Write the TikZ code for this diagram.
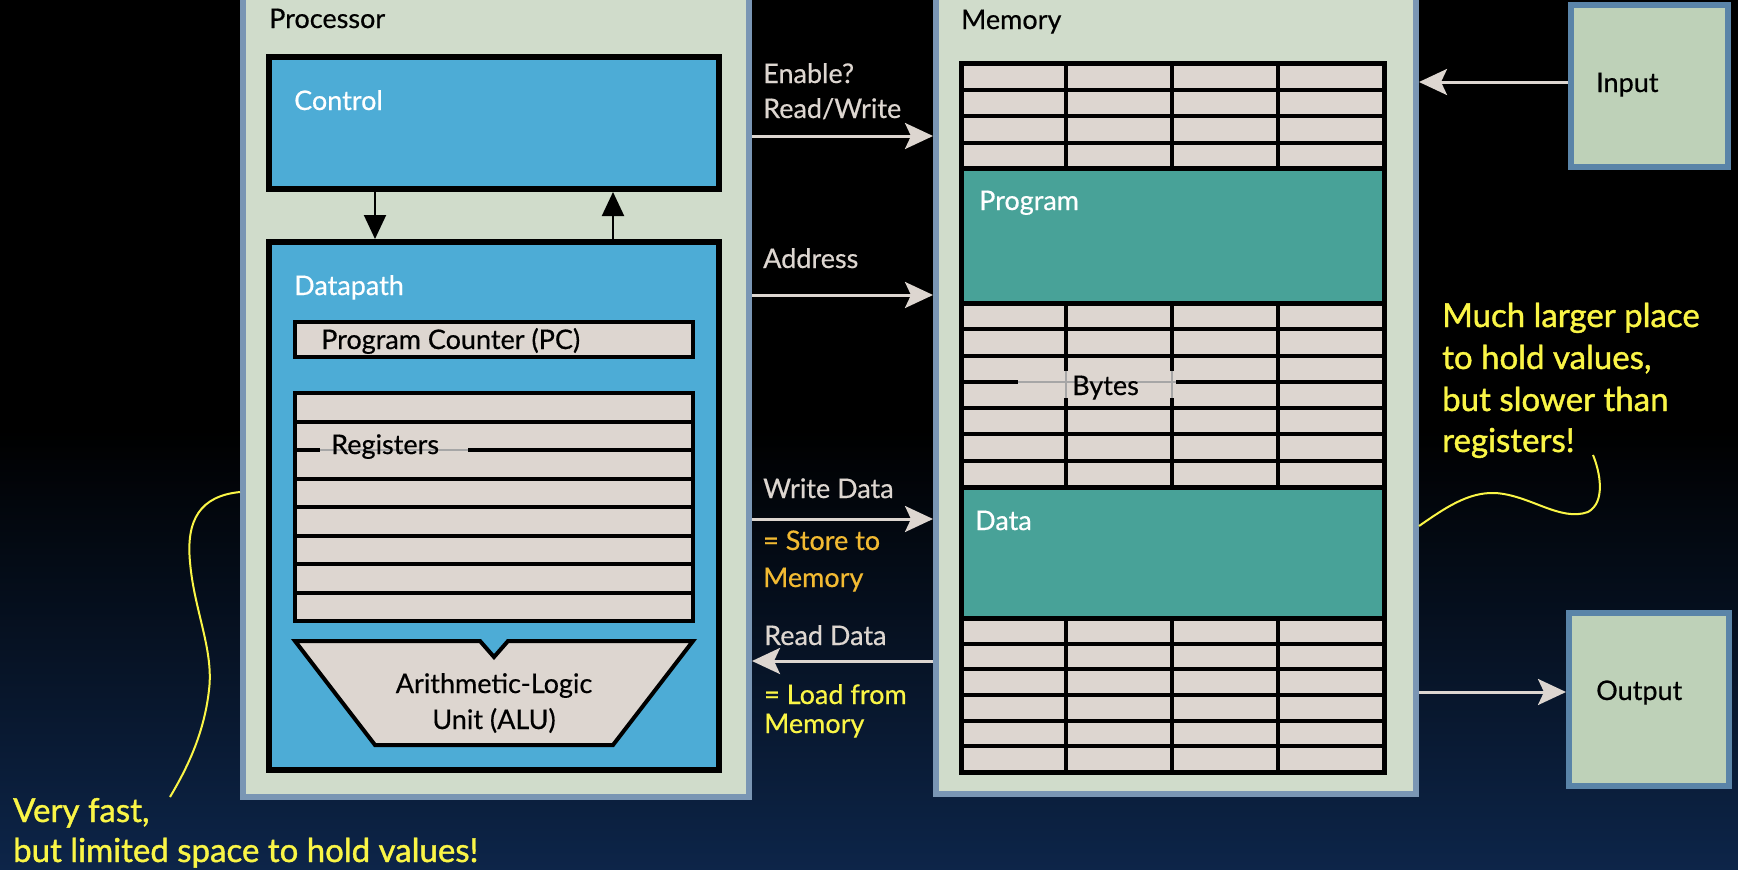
\documentclass[tikz,border=0pt]{standalone}
\usepackage{fontspec}
\setmainfont{Lato}
\newfontfamily\labelfont{Lato}[FakeBold=0.5]
\newfontfamily\notefont{Lato}[FakeBold=1.2]
\usetikzlibrary{arrows.meta}
\definecolor{bgnavy}{RGB}{13,37,73}
\definecolor{panel}{RGB}{208,220,203}
\definecolor{panelborder}{RGB}{122,150,180}
\definecolor{ctrlblue}{RGB}{77,172,214}
\definecolor{cell}{RGB}{221,214,208}
\definecolor{progteal}{RGB}{72,162,152}
\definecolor{iofill}{RGB}{190,209,184}
\definecolor{ioborder}{RGB}{90,132,168}
\definecolor{noteyellow}{RGB}{250,245,70}
\definecolor{noteorange}{RGB}{242,186,50}
\definecolor{wirecol}{RGB}{221,214,208}
\tikzset{
  panelbox/.style={draw=panelborder, fill=panel, line width=6pt, inner sep=0pt},
  bluebox/.style={draw=black, fill=ctrlblue, line width=6pt, inner sep=0pt},
  cellbox/.style={draw=black, fill=cell, line width=4pt, inner sep=0pt},
  tealbox/.style={draw=black, fill=progteal, line width=5pt, inner sep=0pt},
  iobox/.style={draw=ioborder, fill=iofill, line width=6pt, inner sep=0pt},
  lbl/.style={inner sep=0pt, anchor=base west, font=\labelfont\fontsize{27}{32}\selectfont, text=black},
  wlbl/.style={lbl, text=white},
  wirelbl/.style={lbl, text=wirecol},
  ctlarrow/.style={draw=black, line width=2pt, -{Triangle[length=24pt,width=22pt]}},
  wire/.style={draw=wirecol, line width=3pt, -{Stealth[length=28pt,width=26pt,inset=6pt]}},
  note/.style={inner sep=0pt, anchor=base west, font=\notefont\fontsize{33}{42}\selectfont, text=noteyellow},
  notecurve/.style={draw=noteyellow, line width=2pt},
  gridline/.style={draw=black, line width=4pt},
  faintline/.style={draw=black!35, line width=1.2pt},
}
\begin{document}
\begin{tikzpicture}[x=1pt,y=-1pt]
\useasboundingbox (0,0) rectangle (1738,870);
% background
\fill[black] (0,0) rectangle (1738,870);
\shade[top color=black, bottom color=bgnavy] (0,430) rectangle (1738,870);

% panels
\node[panelbox, minimum width=506pt, minimum height=807pt] (proc) at (496,393.5) {};
\node[panelbox, minimum width=480pt, minimum height=804pt] (mem) at (1176,392) {};
\node[lbl] (proclbl) at (269,28) {Processor};
\node[lbl] (memlbl) at (961,29) {Memory};

% control and datapath
\node[bluebox, minimum width=450pt, minimum height=132pt] (ctrl) at (494,123) {};
\node[bluebox, minimum width=450pt, minimum height=528pt] (dp) at (494,506) {};
\node[wlbl] (ctrllbl) at (294,110) {Control};
\node[wlbl] (dplbl) at (294,295) {Datapath};
\coordinate (dnx) at (375,0);
\coordinate (upx) at (613,0);
\draw[ctlarrow] (ctrl.south -| dnx) -- (dp.north -| dnx);
\draw[ctlarrow] (dp.north -| upx) -- (ctrl.south -| upx);

% program counter
\node[cellbox, minimum width=398pt, minimum height=35pt] (pc) at (494,339.5) {};
\node[lbl] (pclbl) at (321,349) {Program Counter (PC)};

% registers
\node[cellbox, minimum width=398pt, minimum height=228pt] (regs) at (494,507) {};
\foreach \yy in {421.5,450,478.5,507,535.5,564,592.5}
  \draw[gridline] (295,\yy) -- (693,\yy);
\fill[cell] (320,445) rectangle (468,455);
\draw[faintline] (320,450) -- (468,450);
\node[lbl] (reglbl) at (331,454) {Registers};

% ALU
\draw[draw=black, fill=cell, line width=4pt, line join=miter]
  (295,641) -- (480,641) -- (494,657) -- (508,641) -- (693,641) -- (613,745) -- (375,745) -- cycle;
\node[lbl, anchor=base] (alu1) at (494,693) {Arithmetic-Logic};
\node[lbl, anchor=base] (alu2) at (494,729) {Unit (ALU)};

% memory grid
\fill[cell] (961,63) rectangle (1384,772);
\foreach \yy in {89.5,116,142.5,329.3,355.6,381.9,408.1,434.4,460.7,643.7,669.3,695,720.7,746.3}
  \draw[gridline] (961,\yy) -- (1384,\yy);
\foreach \xx in {1066,1172,1278} {
  \draw[gridline] (\xx,63) -- (\xx,168);
  \draw[gridline] (\xx,303) -- (\xx,487);
  \draw[gridline] (\xx,618) -- (\xx,772);
}
\draw[draw=black, line width=5pt] (961,63) rectangle (1384,772);
\node[tealbox, minimum width=423pt, minimum height=135pt] (prog) at (1172.5,235.5) {};
\node[tealbox, minimum width=423pt, minimum height=131pt] (datab) at (1172.5,552.5) {};
\node[wlbl] (proglbl) at (979,210) {Program};
\node[wlbl] (datalbl) at (975,530) {Data};
\fill[cell] (1018,371) rectangle (1176,398);
\draw[faintline] (1018,382) -- (1176,382);
\draw[faintline] (1066,371) -- (1066,398);
\draw[faintline] (1172,371) -- (1172,398);
\node[lbl] (byteslbl) at (1072,395) {Bytes};

% processor-memory wires
\coordinate (yen) at (0,136);
\coordinate (yad) at (0,295);
\coordinate (ywr) at (0,519);
\coordinate (yrd) at (0,661);
\draw[wire] (proc.east |- yen) -- (mem.west |- yen);
\draw[wire] (proc.east |- yad) -- (mem.west |- yad);
\draw[wire] (proc.east |- ywr) -- (mem.west |- ywr);
\draw[wire] (mem.west |- yrd) -- (proc.east |- yrd);
\node[wirelbl] (enlbl) at (763,83) {Enable?};
\node[wirelbl] (rwlbl) at (763,118) {Read/Write};
\node[wirelbl] (adlbl) at (763,268) {Address};
\node[wirelbl] (wrlbl) at (763,498) {Write Data};
\node[lbl, text=noteorange] (st1) at (763,550) {= Store to};
\node[lbl, text=noteorange] (st2) at (763,587) {Memory};
\node[wirelbl] (rdlbl) at (764,645) {Read Data};
\node[lbl, text=noteyellow] (ld1) at (764,704) {= Load from};
\node[lbl, text=noteyellow] (ld2) at (764,733) {Memory};

% input / output
\node[iobox, minimum width=157pt, minimum height=162pt] (inp) at (1649.5,86) {};
\node[iobox, minimum width=160pt, minimum height=173pt] (outp) at (1649,699.5) {};
\node[lbl] (inlbl) at (1596,92) {Input};
\node[lbl] (outlbl) at (1596,700) {Output};
\coordinate (yin) at (0,82);
\coordinate (yout) at (0,692);
\draw[wire] (inp.west |- yin) -- (mem.east |- yin);
\draw[wire] (mem.east |- yout) -- (outp.west |- yout);

% notes
\node[note] (n1) at (13,822) {Very fast,};
\node[note] (n2) at (13,862) {but limited space to hold values!};
\coordinate (lnote) at (170,797);
\coordinate (ly) at (0,492);
\draw[notecurve] (proc.west |- ly) .. controls (200,496) and (186,520) .. (190,562)
  .. controls (194,610) and (214,650) .. (209,690) .. controls (204,735) and (186,770) .. (lnote);

\node[note] (r1) at (1442,327) {Much larger place};
\node[note] (r2) at (1442,369) {to hold values,};
\node[note] (r3) at (1442,411) {but slower than};
\node[note] (r4) at (1442,452) {registers!};
\coordinate (rnote) at (1593,455);
\coordinate (ry) at (0,526);
\draw[notecurve] (mem.east |- ry) .. controls (1445,508) and (1468,492) .. (1495,493)
  .. controls (1530,495) and (1560,522) .. (1588,512) .. controls (1606,502) and (1600,472) .. (rnote);
\end{tikzpicture}
\end{document}
